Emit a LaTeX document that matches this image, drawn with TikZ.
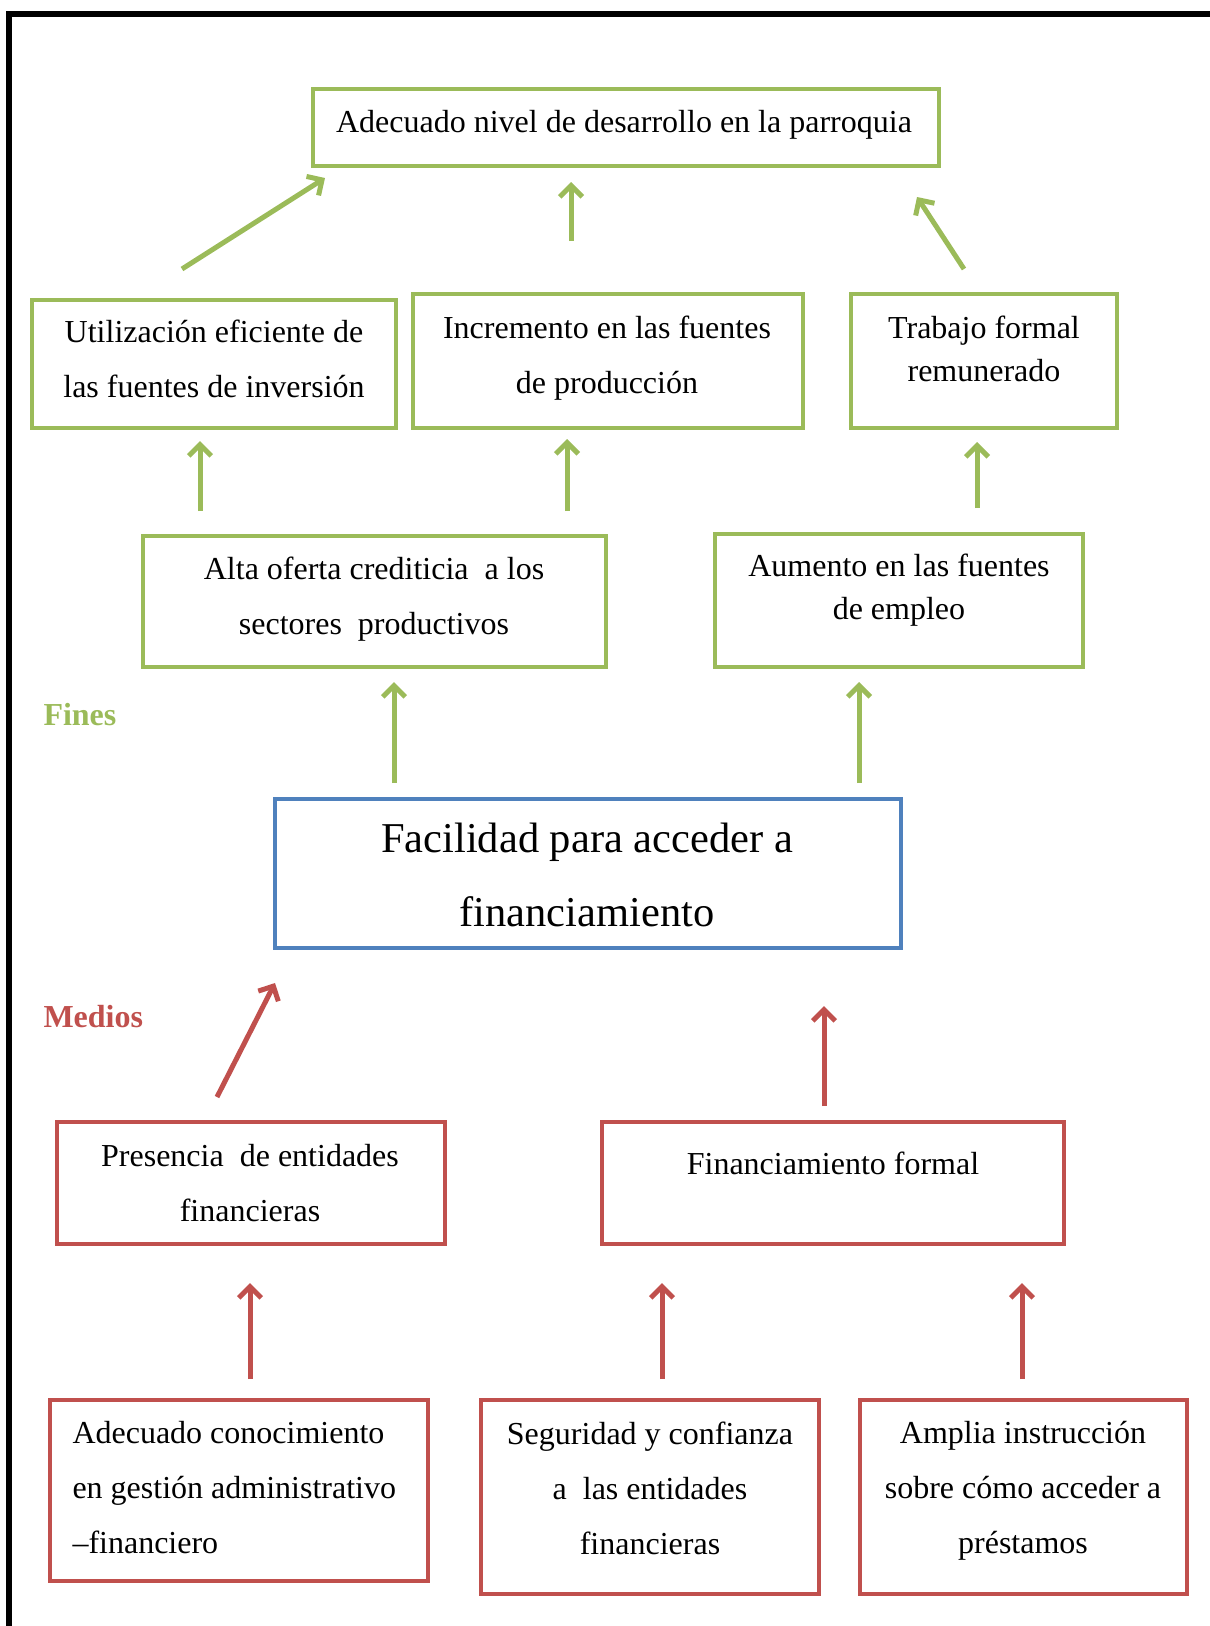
\documentclass[tikz,border=0pt]{standalone}
\usepackage{fontspec}
\setmainfont{Liberation Serif}
\usetikzlibrary{arrows.meta,fit}
\definecolor{ogreen}{HTML}{9BBB59}
\definecolor{oblue}{HTML}{4F81BD}
\definecolor{ored}{HTML}{C0504D}
\begin{document}
\begin{tikzpicture}[x=0.4pt,y=-0.4pt,
  box/.style={draw, line width=1.9pt, inner sep=0pt},
  gbox/.style={box, draw=ogreen},
  bbox/.style={box, draw=oblue},
  rbox/.style={box, draw=ored},
  txt/.style={font=\fontsize{12.8}{22}\selectfont, align=center, inner sep=0pt},
  txtc/.style={font=\fontsize{12.8}{17}\selectfont, align=center, inner sep=0pt},
  big/.style={font=\fontsize{17}{29.4}\selectfont, align=center, inner sep=0pt},
  lbl/.style={font=\fontsize{12.8}{14}\selectfont\bfseries, anchor=west, inner sep=0pt},
  garrow/.style={draw=ogreen, line width=2pt, -{Straight Barb[length=4.5pt,width=9pt]}},
  rarrow/.style={draw=ored, line width=2pt, -{Straight Barb[length=4.5pt,width=9pt]}},
]
\useasboundingbox (0,0) rectangle (1209,1626);
% frame
\draw[line width=2.2pt, line cap=rect] (9,1626) -- (9,14) -- (1209,14);

% boxes
\node[gbox, fit={(313,89) (939,166)}] (top) {};
\node[gbox, fit={(32,300) (396,428)}] (bA) {};
\node[gbox, fit={(413,294) (803,428)}] (bB) {};
\node[gbox, fit={(851,294) (1117,428)}] (bC) {};
\node[gbox, fit={(143,536) (606,667)}] (bD) {};
\node[gbox, fit={(715,534) (1083,667)}] (bE) {};
\node[bbox, fit={(275,799) (901,948)}] (ctr) {};
\node[rbox, fit={(57,1122) (445,1244)}] (bF) {};
\node[rbox, fit={(602,1122) (1064,1244)}] (bG) {};
\node[rbox, fit={(50,1400) (428,1581)}] (bH) {};
\node[rbox, fit={(481,1400) (819,1594)}] (bI) {};
\node[rbox, fit={(860,1400) (1187,1594)}] (bJ) {};

% texts
\node[txt] (tTop) at (624,125) {Adecuado nivel de desarrollo en la parroquia};
\node[txt] (tA) at (214,359) {Utilización eficiente de\\las fuentes de inversión};
\node[txt] (tB) at (607,358) {Incremento en las fuentes\\de producción};
\node[txtc] (tC) at (984,349) {Trabajo formal\\remunerado};
\node[txt] (tD) at (374,599) {Alta oferta crediticia ~a los\\sectores ~productivos};
\node[txtc] (tE) at (899,590) {Aumento en las fuentes\\de empleo};
\node[big] (tCtr) at (587,875) {Facilidad para acceder a\\financiamiento};
\node[txt] (tF) at (250,1183) {Presencia ~de entidades\\financieras};
\node[txt] (tG) at (833,1163) {Financiamiento formal};
\node[txt, align=left, anchor=west] (tH) at (72,1488) {Adecuado conocimiento\\en gestión administrativo\\–financiero};
\node[txt] (tI) at (650,1488) {Seguridad y confianza\\a ~las entidades\\financieras};
\node[txt] (tJ) at (1023,1491) {Amplia instrucción\\sobre cómo acceder a\\préstamos};

\node[lbl, text=ogreen] (fines) at (43,715) {Fines};
\node[lbl, text=ored] (medios) at (43,1017) {Medios};

% arrow end points
\coordinate (g1s) at (182,269); \coordinate (g1e) at (325,178);
\coordinate (g2s) at (571,241); \coordinate (g2e) at (571,182);
\coordinate (g3s) at (964,269); \coordinate (g3e) at (917,197);
\coordinate (g4s) at (200,511); \coordinate (g4e) at (200,441);
\coordinate (g5s) at (567,511); \coordinate (g5e) at (567,439);
\coordinate (g6s) at (977,508); \coordinate (g6e) at (977,442);
\coordinate (g7s) at (394,783); \coordinate (g7e) at (394,682);
\coordinate (g8s) at (859,783); \coordinate (g8e) at (859,682);
\coordinate (r1s) at (217,1097); \coordinate (r1e) at (275,983);
\coordinate (r2s) at (824,1106); \coordinate (r2e) at (824,1006);
\coordinate (r3s) at (250,1379); \coordinate (r3e) at (250,1283);
\coordinate (r4s) at (662,1379); \coordinate (r4e) at (662,1283);
\coordinate (r5s) at (1022,1379); \coordinate (r5e) at (1022,1283);

\foreach \a in {1,...,8} {\draw[garrow] (g\a s) -- (g\a e);}
\foreach \a in {1,...,5} {\draw[rarrow] (r\a s) -- (r\a e);}
\end{tikzpicture}
\end{document}
